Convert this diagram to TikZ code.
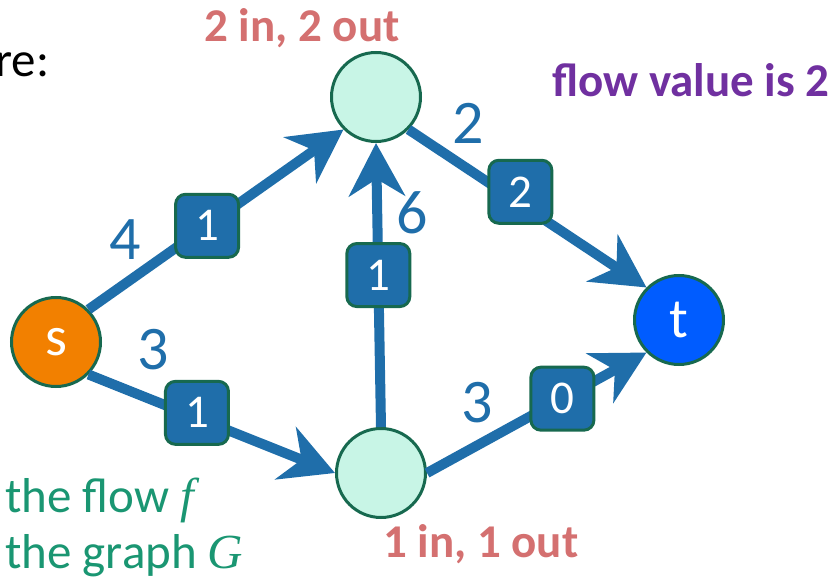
\documentclass[tikz,border=0pt]{standalone}
\usepackage{fontspec}
\setmainfont{Carlito}
\newfontfamily\mathserif{Liberation Serif}
\usetikzlibrary{arrows.meta}
\definecolor{edgeblue}{HTML}{1F6EAA}
\definecolor{rimgreen}{HTML}{17694F}
\definecolor{mint}{HTML}{C8F5E6}
\definecolor{sourceorange}{HTML}{F28000}
\definecolor{sinkblue}{HTML}{005CFF}
\definecolor{countred}{HTML}{D47070}
\definecolor{valuepurple}{HTML}{7030A0}
\definecolor{notegreen}{HTML}{1A9672}

\begin{document}
\begin{tikzpicture}[x=1pt, y=-1pt, every node/.style={inner sep=0pt, font=\fontsize{49}{55}\selectfont},
	>={Stealth[length=53pt, width=56pt, inset=17pt]},
	vertex/.style={circle, draw=rimgreen, line width=3pt, minimum size=89pt, text=white, font=\fontsize{56}{60}\selectfont},
	flowbox/.style={rectangle, rounded corners=10pt, fill=edgeblue, draw=rimgreen, line width=3pt, minimum size=63pt, text=white, font=\fontsize{47}{50}\selectfont},
	capacity/.style={text=edgeblue, font=\fontsize{62}{70}\selectfont},
	count/.style={text=countred, font=\bfseries\fontsize{47}{52}\selectfont},
	flowedge/.style={->, edgeblue, line width=10pt}]
	\useasboundingbox (0,0) rectangle (839,580);
	\node[vertex, fill=sourceorange] (s) at (56,342) {s};
	\node[vertex, fill=mint] (u) at (376,97) {};
	\node[vertex, fill=mint] (v) at (381,473) {};
	\node[vertex, fill=sinkblue] (t) at (679,320) {t};
	\draw[flowedge] (s.45) -- (u.225) node[flowbox, pos=0.465] (f1) {1};
	\draw[flowedge] (s.-45) -- (v.180) node[flowbox, pos=0.44, yshift=5pt] (f2) {1};
	\draw[flowedge] (v.90) -- (u.270) node[flowbox, pos=0.535] (f3) {1};
	\draw[flowedge] (u.-45) -- (t.135) node[flowbox, pos=0.47, yshift=12pt] (f4) {2};
	\draw[flowedge] (v.0) -- (t.225) node[flowbox, pos=0.617] (f5) {0};
	\node[capacity] (c1) at (125,240) {4};
	\node[capacity] (c2) at (153,350) {3};
	\node[capacity] (c3) at (412,213) {6};
	\node[capacity] (c4) at (468,123) {2};
	\node[capacity] (c5) at (477,403) {3};
	\node[count, anchor=base] (uin) at (302,42) {2 in, 2 out};
	\node[count, anchor=base west] (vin) at (383,557) {1 in, 1 out};
	\node[text=valuepurple, font=\bfseries\fontsize{47}{52}\selectfont, anchor=base west] (val) at (552,97) {flow value is 2};
	\node[anchor=base west] (cut) at (-5,77) {re:};
	\node[text=notegreen, anchor=base west] (nf) at (5,512) {the flow {\mathserif\itshape f}};
	\node[text=notegreen, anchor=base west] (ng) at (5,568) {the graph {\mathserif\itshape G}};
\end{tikzpicture}
\end{document}
